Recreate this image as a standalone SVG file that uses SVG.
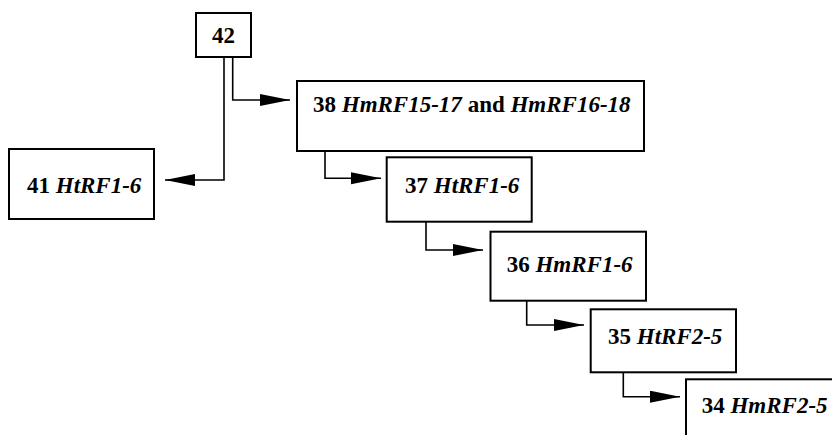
<svg xmlns="http://www.w3.org/2000/svg" width="832" height="435" viewBox="0 0 832 435">
<defs>
<style>
.box{fill:#fff;stroke:#000;stroke-width:2}
.lbl{font-family:"Liberation Serif","Times New Roman",serif;font-weight:bold;font-size:23px;fill:#000}
.it{font-style:italic}
.con{fill:none;stroke:#000;stroke-width:1.6}
</style>
<marker id="ah" markerUnits="userSpaceOnUse" markerWidth="32" markerHeight="14" refX="30" refY="6" orient="auto" viewBox="0 0 32 14">
<path d="M0,0 L30,6 L0,12 Z" fill="#000"/>
</marker>
</defs>
<rect width="832" height="435" fill="#fff"/>
<g id="connectors">
<path class="con" d="M232.7,57 V100 H290" marker-end="url(#ah)"/>
<path class="con" d="M224,57 V180 H165" marker-end="url(#ah)"/>
<path class="con" d="M325,151 V178.3 H381" marker-end="url(#ah)"/>
<path class="con" d="M426,222 V250 H483" marker-end="url(#ah)"/>
<path class="con" d="M526.7,301 V325 H584" marker-end="url(#ah)"/>
<path class="con" d="M623.3,372 V396.7 H680" marker-end="url(#ah)"/>
</g>
<g id="n42"><rect class="box" x="196" y="13" width="55" height="44"/><text class="lbl" x="223.5" y="43" text-anchor="middle">42</text></g>
<g id="n38"><rect class="box" x="297" y="81" width="347" height="70"/><text class="lbl" x="313" y="111.7">38 <tspan class="it">HmRF15-17</tspan> and <tspan class="it">HmRF16-18</tspan></text></g>
<g id="n41"><rect class="box" x="9" y="149" width="145" height="70"/><text class="lbl" x="27" y="193">41 <tspan class="it">HtRF1-6</tspan></text></g>
<g id="n37"><rect class="box" x="386.7" y="157.3" width="145" height="64.4"/><text class="lbl" x="405" y="193">37 <tspan class="it">HtRF1-6</tspan></text></g>
<g id="n36"><rect class="box" x="490.5" y="231.7" width="155.5" height="69"/><text class="lbl" x="506.7" y="271.7">36 <tspan class="it">HmRF1-6</tspan></text></g>
<g id="n35"><rect class="box" x="590.7" y="309.3" width="145.3" height="63"/><text class="lbl" x="608" y="344">35 <tspan class="it">HtRF2-5</tspan></text></g>
<g id="n34"><rect class="box" x="686" y="379.3" width="200" height="80"/><text class="lbl" x="701.7" y="413.3">34 <tspan class="it">HmRF2-5</tspan></text></g>
</svg>
